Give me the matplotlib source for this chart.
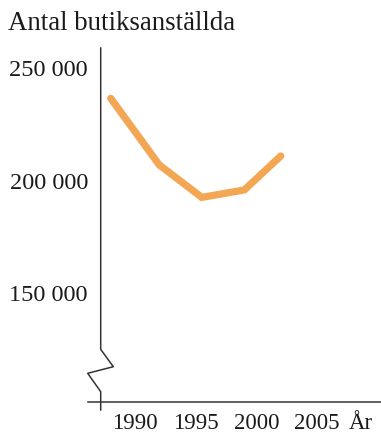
import matplotlib
matplotlib.use("Agg")
import matplotlib.pyplot as plt

# Number of shop employees per year
years = [1988, 1992, 1995.5, 1999, 2002]
employees = [236500, 206900, 192500, 195800, 210900]

tick_years = [1990, 1995, 2000, 2005]
tick_year_labels = ["1990", "1995", "2000", "2005"]
tick_values = [150000, 200000, 250000]
tick_value_labels = ["150 000", "200 000", "250 000"]

W, H = 381, 433
fig = plt.figure(figsize=(W / 100, H / 100), dpi=100)
plt.rcParams["font.family"] = ["Liberation Serif", "DejaVu Serif"]

# axes box: left edge on the y axis, bottom edge on the x axis
left_px, right_px, top_px, bottom_px = 101, 381, 48, 401.7
ax = fig.add_axes([left_px / W, 1 - bottom_px / H,
                   (right_px - left_px) / W, (bottom_px - top_px) / H])
ax.set_xlim(1987.2, 2010.25)
ax.set_ylim(101689, 258889)

ax.plot(years, employees, color="#F3A653", lw=5.2, solid_capstyle="round",
        solid_joinstyle="miter", clip_on=False)

for s in ax.spines.values():
    s.set_visible(False)

text_col = "#1a1a1a"
ax.set_xticks(tick_years)
ax.set_xticklabels(tick_year_labels)
ax.set_yticks(tick_values)
ax.set_yticklabels(tick_value_labels)
ax.tick_params(length=0, colors=text_col)
ax.tick_params(axis="y", pad=9.4, labelsize=17.5)
ax.tick_params(axis="x", pad=7.8, labelsize=16.5)
ax.text(2008.6, -11.5 / (bottom_px - top_px), "År",
        transform=ax.get_xaxis_transform(),
        ha="center", va="top", fontsize=16.5, color=text_col)

# axis lines with a break in the y axis
def px(xp, yp):
    return ((xp - left_px) / (right_px - left_px),
            (bottom_px - yp) / (bottom_px - top_px))

axis_col = "#333333"
pts = [px(100.7, 48), px(100.7, 349.3), px(113.3, 366.7), px(87.7, 373.3),
       px(100.7, 391.7), px(100.7, 410)]
ax.plot([p[0] for p in pts], [p[1] for p in pts], color=axis_col, lw=1.1,
        transform=ax.transAxes, clip_on=False)
xa = [px(87.7, 401.7), px(381, 401.7)]
ax.plot([p[0] for p in xa], [p[1] for p in xa], color=axis_col, lw=1.1,
        transform=ax.transAxes, clip_on=False)

fig.text(8 / W, 1 - 30 / H, "Antal butiksanställda", ha="left", va="baseline",
         fontsize=19.4, color=text_col)

fig.savefig("out.png", dpi=100)
